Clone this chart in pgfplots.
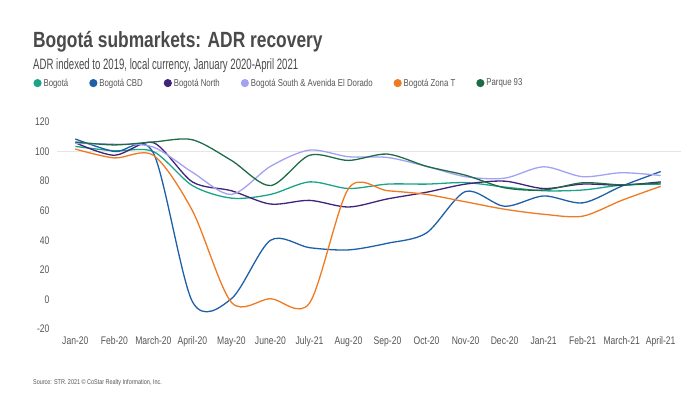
\documentclass[border=0pt]{standalone}
\usepackage{fontspec}
\setmainfont{Liberation Sans}[FakeStretch=0.78]
\newfontfamily\titlefont{Liberation Sans}[FakeStretch=0.79]
\newfontfamily\subfont{Liberation Sans}[FakeStretch=0.64]
\usepackage{pgfplots}
\usepackage{pgfplotstable}
\pgfplotsset{compat=1.18}
\definecolor{cTeal}{HTML}{1AA58A}
\definecolor{cBlue}{HTML}{1E5FA8}
\definecolor{cPurple}{HTML}{40237A}
\definecolor{cLav}{HTML}{A3A1F2}
\definecolor{cOrange}{HTML}{EE7A22}
\definecolor{cGreen}{HTML}{1E6B48}
\definecolor{cText}{HTML}{555555}
\definecolor{cTitle}{HTML}{4A4A4A}
\pgfplotstableread{
x teal blue purple lav orange green
0 103.5 108.5 106 105.5 101.7 106.5
1 100.5 100 97.5 105 95.7 104.5
2 100 99 106 103 97.5 106.5
3 77 -1.5 79.5 86 60 108
4 68.5 0.5 73.5 71 -2 94
5 71 40 64.5 90 0.5 77
6 79.5 35 67 101 -2.5 97.5
7 75 33.5 62.5 96.5 75 94
8 78 38 68 96 73.5 98.3
9 78 45 72.5 90 71 90
10 79 73 78 83 66 84
11 76 63 80 82 61 75.5
12 73.5 70 75 89.7 57.6 74
13 74 65.3 78 83 56.3 78.9
14 77.3 76.6 77.3 85.7 67 77.5
15 78 86.5 79.5 83.8 76.5 78.8
}\data
\begin{document}
\begin{tikzpicture}[x=1pt,y=1pt]
\path[use as bounding box] (0,0) rectangle (700,393);
\node[anchor=base west, inner sep=0, text=cTitle, font=\titlefont\bfseries\fontsize{22}{26}\selectfont] at (33,345) {Bogotá submarkets: ADR recovery};
\node[anchor=base west, inner sep=0, text=cTitle, font=\subfont\fontsize{15}{18}\selectfont] at (33,323) {ADR indexed to 2019, local currency, January 2020-April 2021};
\node[anchor=base west, inner sep=0, text=cText, font=\fontsize{7}{8}\selectfont] at (33,9) {Source: STR. 2021 © CoStar Realty Information, Inc.};
\begin{axis}[
  at={(57pt,64pt)}, anchor=south west, scale only axis,
  width=624pt, height=207pt,
  xmin=-0.47, xmax=15.52, ymin=-20, ymax=120,
  axis line style={draw=none}, tick style={draw=none},
  xtick={0,...,15},
  xticklabels={Jan-20,Feb-20,March-20,April-20,May-20,June-20,July-21,Aug-20,Sep-20,Oct-20,Nov-20,Dec-20,Jan-21,Feb-21,March-21,April-21},
  ytick={-20,0,...,120},
  extra y ticks={100}, extra y tick labels={},
  extra y tick style={grid=major, major grid style={draw=black!10, line width=1.2pt}},
  /pgf/number format/assume math mode=true,
  ticklabel style={text=cText, font=\fontsize{11}{13}\selectfont},
  yticklabel style={xshift=-4pt},
  xticklabel style={yshift=-4pt},
  every axis plot/.append style={smooth, tension=0.5, line width=1.3pt, no markers},
  legend columns=6,
  legend style={at={(axis description cs:-0.038,1.188)}, anchor=west, draw=none, fill=none,
    font=\fontsize{10}{12}\selectfont, text=cText, inner sep=0pt,
    /tikz/every even column/.append style={column sep=19pt}},
  legend image code/.code={\fill[#1] (3pt,0pt) circle (3.4pt);},
  legend cell align=left,
]
\addplot[cTeal] table[x=x,y=teal]{\data};
\addlegendentry{Bogotá}
\addplot[cBlue] table[x=x,y=blue]{\data};
\addlegendentry{Bogotá CBD}
\addplot[cPurple] table[x=x,y=purple]{\data};
\addlegendentry{Bogotá North}
\addplot[cLav] table[x=x,y=lav]{\data};
\addlegendentry{Bogotá South \& Avenida El Dorado}
\addplot[cOrange] table[x=x,y=orange]{\data};
\addlegendentry{Bogotá Zona T}
\addplot[cGreen] table[x=x,y=green]{\data};
\addlegendentry{Parque 93}
\end{axis}
\end{tikzpicture}
\end{document}
